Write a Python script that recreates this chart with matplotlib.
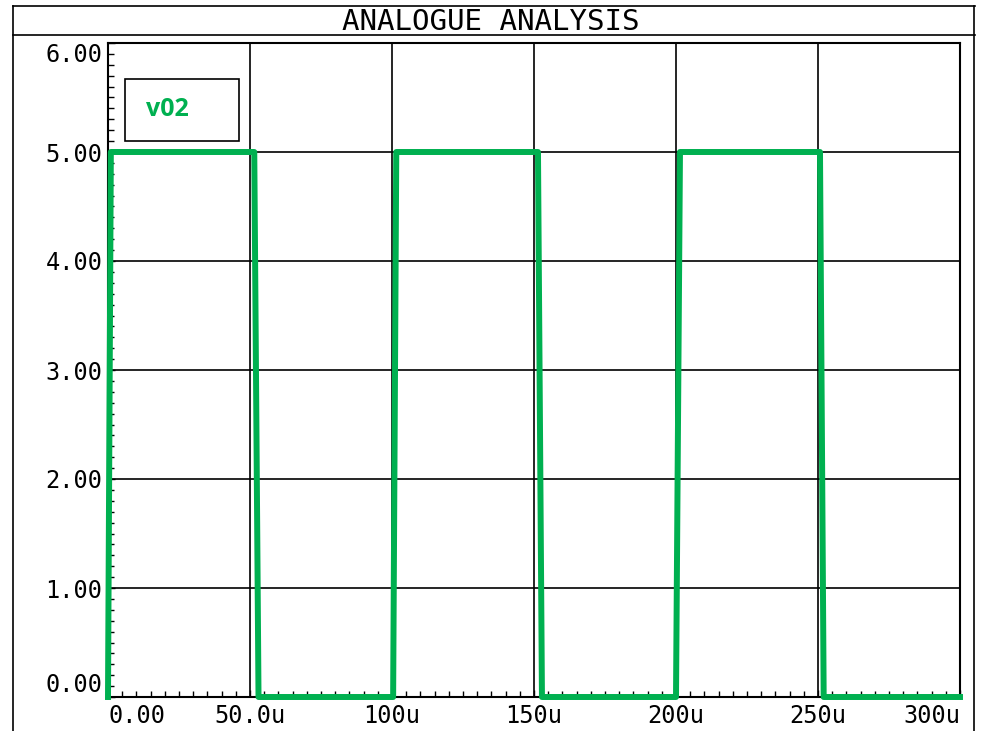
import matplotlib
matplotlib.use("Agg")
import matplotlib.pyplot as plt
from matplotlib.lines import Line2D
from matplotlib.patches import Rectangle
from matplotlib.ticker import FixedLocator, FixedFormatter, MultipleLocator

# v02 waveform, time in microseconds, volts
t_us = [0, 1.0, 51.5, 53.0, 100.4, 101.5, 151.4, 152.8, 200.0, 201.4, 250.7, 252.0, 300]
v02 = [0, 5, 5, 0, 0, 5, 5, 0, 0, 5, 5, 0, 0]

x_ticks_us = [0, 50, 100, 150, 200, 250, 300]
x_tick_labels = ["0.00", "50.0u", "100u", "150u", "200u", "250u", "300u"]
y_ticks = [0, 1, 2, 3, 4, 5, 6]
y_tick_labels = ["0.00", "1.00", "2.00", "3.00", "4.00", "5.00", "6.00"]

title = "ANALOGUE ANALYSIS"
series_name = "v02"
green = "#00B050"
mono = "DejaVu Sans Mono"

W, H = 981, 731
fig = plt.figure(figsize=(W / 100, H / 100), dpi=100)

def fx(px):
    return px / W

def fy(py):
    return 1 - py / H

# outer frame and title band
frame_kw = dict(color="black", lw=1.2, transform=fig.transFigure)
fig.add_artist(Line2D([fx(13), fx(975)], [fy(6), fy(6)], **frame_kw))
fig.add_artist(Line2D([fx(13), fx(975)], [fy(35), fy(35)], **frame_kw))
fig.add_artist(Line2D([fx(13), fx(13)], [fy(6), 0], **frame_kw))
fig.add_artist(Line2D([fx(974), fx(974)], [fy(6), 0], **frame_kw))
fig.text(0.5, fy(22), title, ha="center", va="center", family=mono, fontsize=21)

ax = fig.add_axes([fx(108), fy(697), fx(960 - 108), (697 - 43) / H])
ax.plot(t_us, v02, color=green, lw=4.3, solid_joinstyle="round", clip_on=False, zorder=5)

ax.set_xlim(0, 300)
ax.set_ylim(0, 6)
ax.xaxis.set_major_locator(FixedLocator(x_ticks_us))
ax.xaxis.set_major_formatter(FixedFormatter(x_tick_labels))
ax.xaxis.set_minor_locator(MultipleLocator(5))
ax.yaxis.set_major_locator(FixedLocator(y_ticks))
ax.yaxis.set_major_formatter(FixedFormatter(y_tick_labels))
ax.yaxis.set_minor_locator(MultipleLocator(0.1))

ax.tick_params(which="both", direction="in", color="black", width=1.0)
ax.tick_params(which="major", length=5)
ax.tick_params(which="minor", length=4)
ax.tick_params(axis="y", pad=4, labelsize=17)
ax.tick_params(axis="x", pad=5, labelsize=17)
for lab in ax.get_xticklabels() + ax.get_yticklabels():
    lab.set_family(mono)

xl = ax.get_xticklabels()
xl[0].set_ha("left")
xl[-1].set_ha("right")
yl = ax.get_yticklabels()
yl[0].set_va("bottom")
yl[-1].set_va("top")

ax.grid(which="major", color="black", lw=1.2)
for s in ax.spines.values():
    s.set_linewidth(1.5)

# legend box
box_x0, box_y0 = 125, 79
box_w, box_h = 114, 62
ax.add_artist(Rectangle((fx(box_x0), fy(box_y0 + box_h)), fx(box_w), box_h / H,
                        transform=fig.transFigure, fill=True, facecolor="white",
                        edgecolor="black", lw=1.2, zorder=6))
fig.text(fx(146), fy(109), series_name, color=green, family=["Open Sans", "DejaVu Sans"],
         weight="bold", fontsize=18, ha="left", va="center", zorder=7)

fig.savefig("out.png", dpi=100)
